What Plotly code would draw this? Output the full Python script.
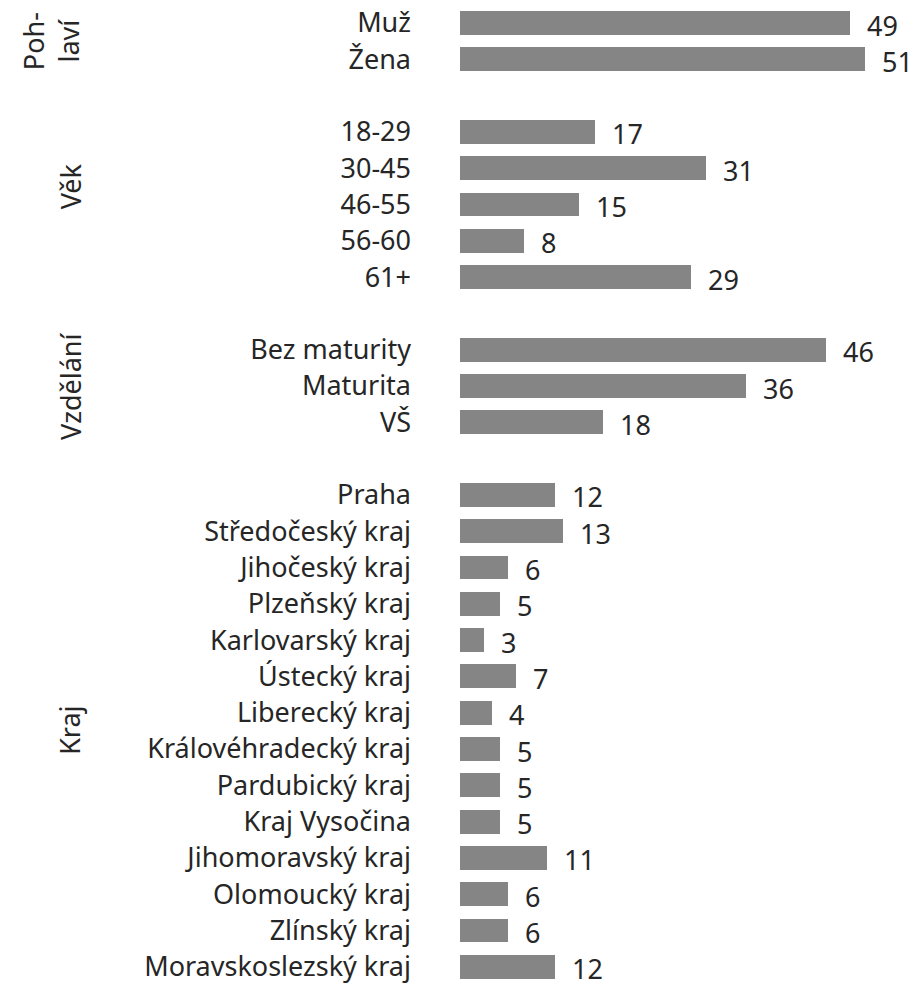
import plotly.graph_objects as go

# Groups of the respondent profile (share in %)
group_names = ["Poh-<br>laví", "Věk", "Vzdělání", "Kraj"]

gender_labels = ["Muž", "Žena"]
gender_values = [49, 51]

age_labels = ["18-29", "30-45", "46-55", "56-60", "61+"]
age_values = [17, 31, 15, 8, 29]

edu_labels = ["Bez maturity", "Maturita", "VŠ"]
edu_values = [46, 36, 18]

region_labels = [
    "Praha", "Středočeský kraj", "Jihočeský kraj", "Plzeňský kraj",
    "Karlovarský kraj", "Ústecký kraj", "Liberecký kraj",
    "Královéhradecký kraj", "Pardubický kraj", "Kraj Vysočina",
    "Jihomoravský kraj", "Olomoucký kraj", "Zlínský kraj",
    "Moravskoslezský kraj",
]
region_values = [12, 13, 6, 5, 3, 7, 4, 5, 5, 5, 11, 6, 6, 12]

groups = [
    (gender_labels, gender_values),
    (age_labels, age_values),
    (edu_labels, edu_values),
    (region_labels, region_values),
]

# Lay the rows out top to bottom, one empty row between groups
positions, labels, values, group_mid = [], [], [], []
row = 0
for labs, vals in groups:
    start = row
    for lab, val in zip(labs, vals):
        positions.append(row)
        labels.append(lab)
        values.append(val)
        row += 1
    group_mid.append((start + row - 1) / 2)
    row += 1

FONT = "Noto Sans"
FS = 27
TXT = "#262626"
BAR = "#858585"

W, H = 916, 983
LEFT = 460          # left edge of the bars in px
PX_PER_UNIT = 7.95  # horizontal scale
ROW_PX = 36.3       # vertical pitch of the rows
TOP_ROW_PX = 23     # centre of the first row

fig = go.Figure(
    go.Bar(
        orientation="h",
        y=positions,
        x=values,
        width=0.66,
        marker=dict(color=BAR, line=dict(width=0)),
        hoverinfo="skip",
    )
)

# value labels right of each bar
for p, v in zip(positions, values):
    fig.add_annotation(
        x=v, y=p, xref="x", yref="y",
        text=str(v), showarrow=False,
        xanchor="left", yanchor="middle",
        xshift=15, yshift=-2,
        font=dict(family=FONT, size=FS, color=TXT),
    )

# rotated group captions
group_x_px = [51, 70, 70, 70]
group_y = [group_mid[0], 4.5, group_mid[2], group_mid[3]]
for name, gx, gy in zip(group_names, group_x_px, group_y):
    fig.add_annotation(
        x=(gx - LEFT) / (W - LEFT), y=gy, xref="paper", yref="y",
        text=name, showarrow=False, textangle=-90,
        xanchor="center", yanchor="middle",
        font=dict(family=FONT, size=FS, color=TXT),
    )

y_top = -TOP_ROW_PX / ROW_PX
y_bottom = y_top + H / ROW_PX

fig.update_layout(
    width=W, height=H,
    margin=dict(l=LEFT, r=0, t=0, b=0),
    paper_bgcolor="white", plot_bgcolor="white",
    showlegend=False,
    bargap=0,
    font=dict(family=FONT, size=FS, color=TXT),
    xaxis=dict(
        range=[0, (W - LEFT) / PX_PER_UNIT],
        showgrid=False, zeroline=False, showline=False,
        showticklabels=False, ticks="", fixedrange=True,
    ),
    yaxis=dict(
        range=[y_bottom, y_top],
        tickmode="array", tickvals=positions, ticktext=labels,
        showgrid=False, zeroline=False, showline=False,
        ticks="", ticklabelstandoff=48,
        ticklabeloverflow="allow",
        tickfont=dict(family=FONT, size=FS, color=TXT),
        fixedrange=True,
    ),
)

fig.write_html("out.html")
